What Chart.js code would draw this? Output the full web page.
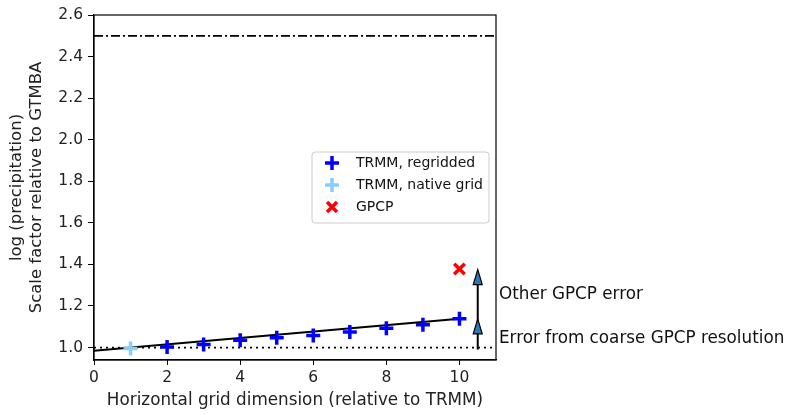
<!DOCTYPE html>
<html><head><meta charset="utf-8">
<script src="https://cdn.jsdelivr.net/npm/chart.js@4/dist/chart.umd.min.js"></script>
<style>html,body{margin:0;padding:0;background:#fff}#wrap{width:787px;height:415px}</style>
</head><body><div id="wrap"><canvas id="c" width="787" height="415"></canvas></div>
<script>
// ---- data ----
const regridX = [2, 3, 4, 5, 6, 7, 8, 9, 10];
const regridY = [1.003, 1.014, 1.035, 1.047, 1.058, 1.075, 1.093, 1.11, 1.138];
const nativeX = [1];
const nativeY = [0.995];
const gpcpX = [10];
const gpcpY = [1.378];
const fitX = [0, 10];
const fitY = [0.985, 1.138];
const refX = [0, 11];
const onesY = [1.0, 1.0];
const upperY = [2.5, 2.5];
const arrowX = 10.5;
const arrowY = [0.99, 1.138, 1.375];
const xTicks = [0, 2, 4, 6, 8, 10];
const yTicks = [1.0, 1.2, 1.4, 1.6, 1.8, 2.0, 2.2, 2.4, 2.6];
const legendLabels = ['TRMM, regridded', 'TRMM, native grid', 'GPCP'];
const sideLabels = ['Other GPCP error', 'Error from coarse GPCP resolution'];
const sideLabelY = [1.255, 1.043];

const FONT = "'DejaVu Sans', sans-serif";
const pts = (xs, ys) => xs.map((x, i) => ({x, y: ys[i]}));

const BLUE = '#0000ff', LBLUE = '#87cefa', RED = '#ff0000';

function drawMarker(ctx, type, x, y, color) {
  ctx.save();
  ctx.strokeStyle = color; ctx.lineWidth = 3.5; ctx.lineCap = 'butt';
  ctx.beginPath();
  if (type === 'cross') {
    ctx.moveTo(x - 7, y); ctx.lineTo(x + 7, y);
    ctx.moveTo(x, y - 7); ctx.lineTo(x, y + 7);
  } else {
    ctx.moveTo(x - 5, y - 5); ctx.lineTo(x + 5, y + 5);
    ctx.moveTo(x - 5, y + 5); ctx.lineTo(x + 5, y - 5);
  }
  ctx.stroke();
  ctx.restore();
}

const extras = {
  id: 'extras',
  afterDatasetsDraw(chart) {
    const {ctx, chartArea: a, scales: {x, y}} = chart;
    ctx.save();
    // frame
    ctx.strokeStyle = '#000'; ctx.lineWidth = 1.2;
    ctx.strokeRect(a.left, a.top, a.right - a.left, a.bottom - a.top);
    // arrows
    const ax = x.getPixelForValue(arrowX);
    const p0 = y.getPixelForValue(arrowY[0]);
    const p1 = y.getPixelForValue(arrowY[1]);
    const p2 = y.getPixelForValue(arrowY[2]);
    ctx.strokeStyle = '#000'; ctx.lineWidth = 2;
    ctx.beginPath(); ctx.moveTo(ax, p0); ctx.lineTo(ax, p2 + 4); ctx.stroke();
    [p1, p2].forEach(tip => {
      ctx.beginPath();
      ctx.moveTo(ax, tip);
      ctx.lineTo(ax - 4.5, tip + 15);
      ctx.lineTo(ax + 4.5, tip + 15);
      ctx.closePath();
      ctx.fillStyle = '#2a7ab8'; ctx.fill();
      ctx.lineWidth = 1.2; ctx.strokeStyle = '#000'; ctx.stroke();
    });
    // side labels
    ctx.fillStyle = '#111'; ctx.font = '16.8px ' + FONT;
    ctx.textBaseline = 'middle'; ctx.textAlign = 'left';
    sideLabels.forEach((t, i) => ctx.fillText(t, a.right + 3, y.getPixelForValue(sideLabelY[i])));
    // legend
    const lx = 312, ly = 152, lw = 177, lh = 71;
    ctx.beginPath();
    ctx.roundRect(lx, ly, lw, lh, 3);
    ctx.fillStyle = 'rgba(255,255,255,0.85)'; ctx.fill();
    ctx.strokeStyle = '#cccccc'; ctx.lineWidth = 1; ctx.stroke();
    const cols = [BLUE, LBLUE, RED], types = ['cross', 'cross', 'x'];
    legendLabels.forEach((t, i) => {
      const yy = ly + 11 + i * 22;
      drawMarker(ctx, types[i], 332, yy, cols[i]);
      ctx.fillStyle = '#111'; ctx.font = '14px ' + FONT;
      ctx.fillText(t, 356, yy);
    });
    ctx.restore();
  }
};

new Chart(document.getElementById('c'), {
  type: 'scatter',
  data: {
    datasets: [
      {label: legendLabels[2], data: pts(gpcpX, gpcpY), pointStyle: 'crossRot', pointRadius: 7.5, pointBorderWidth: 3.5, borderColor: RED, backgroundColor: RED},
      {label: legendLabels[0], data: pts(regridX, regridY), pointStyle: 'cross', pointRadius: 7, pointBorderWidth: 3.5, borderColor: BLUE, backgroundColor: BLUE},
      {label: legendLabels[1], data: pts(nativeX, nativeY), pointStyle: 'cross', pointRadius: 7, pointBorderWidth: 3.5, borderColor: LBLUE, backgroundColor: LBLUE},
      {label: 'fit', data: pts(fitX, fitY), showLine: true, pointRadius: 0, borderColor: '#000', borderWidth: 2},
      {label: 'one', data: pts(refX, onesY), showLine: true, pointRadius: 0, borderColor: '#000', borderWidth: 1.8, borderDash: [2, 4]},
      {label: 'upper', data: pts(refX, upperY), showLine: true, pointRadius: 0, borderColor: '#000', borderWidth: 1.8, borderDash: [9, 3, 2, 3]}
    ]
  },
  options: {
    responsive: false, animation: false, devicePixelRatio: 1,
    layout: {padding: {top: 15, right: 291, left: 0, bottom: 0}},
    plugins: {legend: {display: false}, tooltip: {enabled: false}},
    scales: {
      x: {
        type: 'linear', min: 0, max: 11,
        afterBuildTicks: s => { s.ticks = xTicks.map(v => ({value: v})); },
        afterFit: s => { s.height = 55; },
        grid: {display: true, drawOnChartArea: false, drawTicks: true, tickLength: 5, color: '#000'},
        border: {display: true, color: '#000', width: 1.2},
        ticks: {color: '#222', font: {family: FONT, size: 15.5}, padding: 4, maxRotation: 0},
        title: {display: true, text: 'Horizontal grid dimension (relative to TRMM)', color: '#222', font: {family: FONT, size: 16.8}, padding: {top: 2, bottom: 4}}
      },
      y: {
        type: 'linear', min: 0.94, max: 2.6,
        afterBuildTicks: s => { s.ticks = yTicks.map(v => ({value: v})); },
        afterFit: s => { s.width = 94; },
        grid: {display: true, drawOnChartArea: false, drawTicks: true, tickLength: 6, color: '#000'},
        border: {display: true, color: '#000', width: 1.2},
        ticks: {color: '#222', font: {family: FONT, size: 15.5}, padding: 5, callback: v => v.toFixed(1)},
        title: {display: true, text: ['log (precipitation)', 'Scale factor relative to GTMBA'], color: '#222', font: {family: FONT, size: 16.5}, padding: {top: 7, bottom: 4}}
      }
    }
  },
  plugins: [extras]
});
</script></body></html>
